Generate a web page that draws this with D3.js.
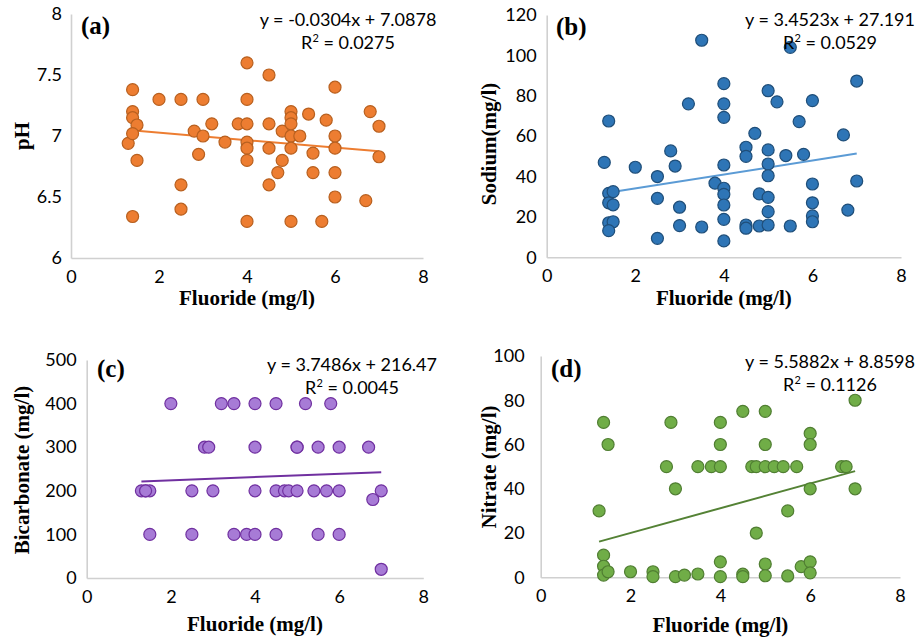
<!DOCTYPE html>
<html><head><meta charset="utf-8">
<script src="https://cdn.jsdelivr.net/npm/d3@7"></script>
<style>body{margin:0;background:#fff}</style>
</head><body>
<svg id="chart" width="918" height="639"></svg>
<script>
// ---- data ----
const fluorideA = [1.3,1.4,1.4,1.4,1.5,1.4,1.5,1.4,2.0,2.5,2.5,2.5,2.8,2.9,3.0,3.0,3.2,3.5,3.8,4,4,4,4,4,4,4,4.5,4.5,4.5,4.5,4.7,4.8,4.8,5,5,5,5,5,5,5.2,5.4,5.5,5.5,5.7,5.8,6,6,6,6,6,6.7,6.8,7.0,7.0];
const phValues = [6.94,7.38,7.2,7.15,7.09,7.02,6.8,6.34,7.3,7.3,6.6,6.4,7.04,6.85,7.3,7.0,7.1,6.95,7.1,7.6,7.3,7.1,6.95,6.9,6.8,6.3,7.5,7.1,6.9,6.6,6.7,7.04,6.8,7.2,7.15,7.1,7.0,6.9,6.3,7.0,7.18,6.86,6.7,6.3,7.13,7.4,7.0,6.9,6.7,6.5,6.47,7.2,7.08,6.83];

const fluorideB = [1.3,1.4,1.4,1.5,1.4,1.5,1.4,1.5,1.4,2.0,2.5,2.5,2.5,2.8,2.9,3.0,3.0,3.2,3.5,3.5,3.8,4,4,4,4,4,4,4,4,4,4.5,4.5,4.5,4.5,4.7,4.8,4.8,5,5,5,5,5,5,5,5.2,5.4,5.5,5.5,5.7,5.8,6,6,6,6,6,6.7,6.8,7.0,7.0];
const sodiumValues = [47,67.5,31.7,32.5,27,26,17.1,17.6,13.2,44.6,40,29.2,9.4,52.7,45.2,24.8,15.7,76,107.5,15,36.7,86,76,69.3,45.7,34.2,31.2,25.9,18.8,8.1,54.5,50,16,14.4,61.4,31.4,15.5,82.5,53.2,46.2,40.4,29.7,22.6,16,77,50.4,104,15.5,67.2,51,77.6,36.3,27,20.5,17.6,60.6,23.4,87.3,37.8];

const fluorideC = [2.0,3.2,3.5,4.0,4.5,5.2,5.8,2.8,2.9,4.0,5.0,5.0,5.5,6.0,6.7,1.3,1.4,1.5,1.4,2.5,3.0,4.0,4.5,4.7,4.8,5.0,5.4,5.7,6.0,7.0,6.8,1.5,2.5,3.5,3.8,4.0,4.5,5.5,6.0,7.0];
const bicarbonateValues = [400,400,400,400,400,400,400,300,300,300,300,300,300,300,300,200,200,200,200,200,200,200,200,200,200,200,200,200,200,200,180,100,100,100,100,100,100,100,100,20];

const fluorideD = [7.0,4.5,5.0,1.4,2.9,4.0,6.0,6.0,5.0,4.0,1.5,2.8,3.5,3.8,4.0,4.7,4.8,5.0,5.2,5.4,5.7,6.7,6.8,3.0,6.0,7.0,1.3,5.5,4.8,1.4,1.4,1.4,1.5,2.0,2.5,2.5,3.0,3.2,3.5,4.0,4.0,4.5,4.5,5.0,5.0,5.5,5.8,6.0,6.0];
const nitrateValues = [80,75,75,70,70,70,65,60,60,60,60,50,50,50,50,50,50,50,50,50,50,50,50,40,40,40,30,30,20,10,5,1,2.5,2.5,2.5,0.3,0.3,1,1.5,7,0.3,1.4,0.3,6,0.7,0.6,4.8,7,2];

const xTicks = [0,2,4,6,8];
const yTicksA = [6,6.5,7,7.5,8];
const yTicksB = [0,20,40,60,80,100,120];
const yTicksC = [0,100,200,300,400,500];
const yTicksD = [0,20,40,60,80,100];

const panelLabels = ["(a)","(b)","(c)","(d)"];
const yTitles = ["pH","Sodium(mg/l)","Bicarbonate (mg/l)","Nitrate (mg/l)"];
const xTitle = "Fluoride (mg/l)";
const slopes = [-0.0304, 3.4523, 3.7486, 5.5882];
const intercepts = [7.0878, 27.191, 216.47, 8.8598];
const eqTexts = ["y = -0.0304x + 7.0878","y = 3.4523x + 27.191","y = 3.7486x + 216.47","y = 5.5882x + 8.8598"];
const r2Texts = ["0.0275","0.0529","0.0045","0.1126"];

// ---- layout/styles ----
const svg = d3.select("#chart");
const SANS = "Lato, 'Open Sans', sans-serif";
const SERIF = "'Liberation Serif', 'Times New Roman', serif";

const panels = [
  {xs:fluorideA, ys:phValues, yTicks:yTicksA, yDom:[6,8], xr:[71,423], yr:[258,14],
   fill:"#ED7D31", stroke:"#B8601F", line:"#ED7D31", fmt:d3.format("~g"),
   yTitleX:22, yTitleY:136, xTitleY:305, lab:[81,34], eq:[348,26], tickPad:9},
  {xs:fluorideB, ys:sodiumValues, yTicks:yTicksB, yDom:[0,120], xr:[546.7,901], yr:[257.3,15],
   fill:"#2E75B6", stroke:"#1F4E79", line:"#5B9BD5", fmt:d3.format("d"),
   yTitleX:489, yTitleY:144, xTitleY:305, lab:[556,35], eq:[830,26], tickPad:10},
  {xs:fluorideC, ys:bicarbonateValues, yTicks:yTicksC, yDom:[0,500], xr:[86.7,423.3], yr:[578,360],
   fill:"#A77BD6", stroke:"#7030A0", line:"#7030A0", fmt:d3.format("d"),
   yTitleX:22, yTitleY:470, xTitleY:631, lab:[97,377], eq:[352,371], tickPad:10},
  {xs:fluorideD, ys:nitrateValues, yTicks:yTicksD, yDom:[0,100], xr:[540.7,900], yr:[577.3,356],
   fill:"#70AD47", stroke:"#507E32", line:"#548235", fmt:d3.format("d"),
   yTitleX:489, yTitleY:467, xTitleY:632, lab:[551,377], eq:[830,368], tickPad:16}
];

panels.forEach((p, i) => {
  const x = d3.scaleLinear().domain([0,8]).range(p.xr);
  const y = d3.scaleLinear().domain(p.yDom).range(p.yr);
  const g = svg.append("g");

  // axes
  const ax = g.append("g").attr("transform", `translate(0,${p.yr[0]})`)
    .call(d3.axisBottom(x).tickValues(xTicks).tickSize(0).tickSizeOuter(0).tickPadding(12).tickFormat(d3.format("d")));
  const ay = g.append("g").attr("transform", `translate(${p.xr[0]},0)`)
    .call(d3.axisLeft(y).tickValues(p.yTicks).tickSize(0).tickSizeOuter(0).tickPadding(p.tickPad).tickFormat(p.fmt));
  [ax, ay].forEach(a => {
    a.select(".domain").attr("stroke", "#d0d0d0").attr("stroke-width", 1.6);
    a.selectAll("text").attr("font-family", SANS).attr("font-size", 18).attr("fill", "#000");
  });

  // trendline
  const xMin = d3.min(p.xs), xMax = d3.max(p.xs);
  const tl = [xMin, xMax].map(v => [v, slopes[i]*v + intercepts[i]]);
  g.append("path").attr("d", d3.line().x(d => x(d[0])).y(d => y(d[1]))(tl))
    .attr("stroke", p.line).attr("stroke-width", 2).attr("fill", "none");

  // points
  g.append("g").selectAll("circle").data(p.xs.map((v, k) => [v, p.ys[k]])).join("circle")
    .attr("cx", d => x(d[0])).attr("cy", d => y(d[1])).attr("r", 6)
    .attr("fill", p.fill).attr("stroke", p.stroke).attr("stroke-width", 1.2);

  // trendline labels
  g.append("text").attr("x", p.eq[0]).attr("y", p.eq[1]).attr("text-anchor", "middle")
    .attr("font-family", SANS).attr("font-size", 18).text(eqTexts[i]);
  const r2 = g.append("text").attr("x", p.eq[0]).attr("y", p.eq[1] + 23).attr("text-anchor", "middle")
    .attr("font-family", SANS).attr("font-size", 18);
  r2.append("tspan").text("R");
  r2.append("tspan").attr("font-size", 11).attr("dy", -7).text("2");
  r2.append("tspan").attr("dy", 7).text(" = " + r2Texts[i]);

  // panel label
  g.append("text").attr("x", p.lab[0]).attr("y", p.lab[1]).attr("font-family", SERIF)
    .attr("font-weight", "bold").attr("font-size", 25).text(panelLabels[i]);

  // axis titles
  g.append("text").attr("x", (p.xr[0] + p.xr[1]) / 2).attr("y", p.xTitleY).attr("text-anchor", "middle")
    .attr("font-family", SERIF).attr("font-weight", "bold").attr("font-size", 21).text(xTitle);
  g.append("text").attr("transform", `translate(${p.yTitleX},${p.yTitleY}) rotate(-90)`)
    .attr("text-anchor", "middle").attr("dy", "0.35em")
    .attr("font-family", SERIF).attr("font-weight", "bold").attr("font-size", 21).text(yTitles[i]);
});
</script>
</body></html>
